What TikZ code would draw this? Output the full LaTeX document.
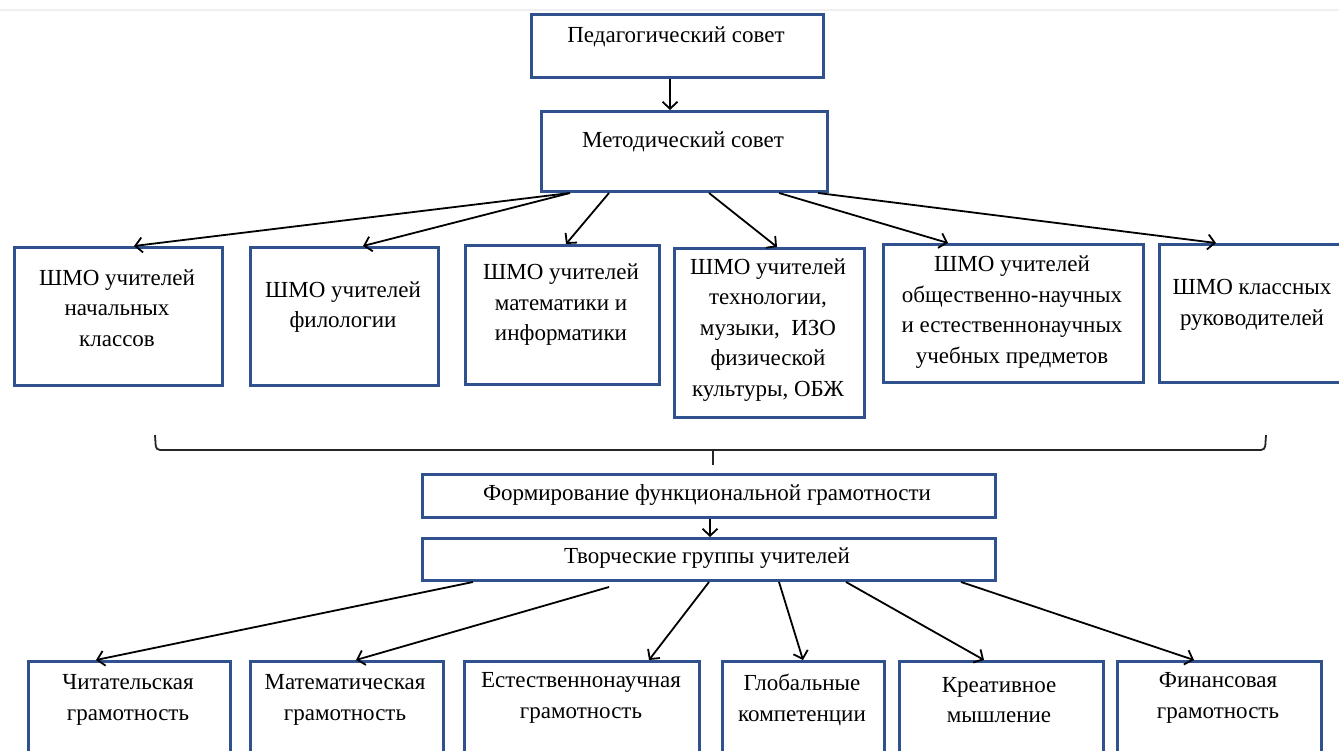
\documentclass[tikz,border=0pt]{standalone}
\usepackage{fontspec}
\setmainfont{Liberation Serif}
\usetikzlibrary{arrows.meta}
\definecolor{boxblue}{RGB}{47,82,143}
\tikzset{
  box/.style={draw=boxblue, line width=3pt, fill=white, inner sep=0pt},
  txt/.style={align=center, font=\fontsize{23}{30.5}\selectfont, inner sep=0pt},
  arr/.style={draw=black, line width=1.8pt, -{Straight Barb[length=7pt,width=15pt,line width=1.8pt]}},
  brace/.style={draw=black!85, line width=1.8pt}
}
\newcommand{\pbox}[5]{% name, x1, y1, x2, y2
  \node[box, minimum width={(#4-#2)*1pt}, minimum height={(#5-#3)*1pt}, anchor=north west] (#1) at (#2,#3) {};}
\begin{document}
\begin{tikzpicture}[x=1pt,y=-1pt]
\useasboundingbox (0,0) rectangle (1339,751);
\fill[white] (0,0) rectangle (1339,751);
\draw[black!6, line width=2pt] (0,10) -- (1339,10);

% top
\pbox{ped}{530}{13}{822}{76}
\node[txt] (tped) at (676,37) {Педагогический совет};
\pbox{met}{540}{110}{826}{190}
\node[txt] (tmet) at (683,142) {Методический совет};

% row 1
\pbox{a1}{13}{246}{221}{384}
\node[txt] (ta1) at (117,308) {ШМО учителей\\начальных\\классов};
\pbox{a2}{249}{246}{437}{384}
\node[txt] (ta2) at (343,307) {ШМО учителей\\филологии};
\pbox{a3}{464}{244}{658}{383}
\node[txt] (ta3) at (561,305) {ШМО учителей\\математики и\\информатики};
\pbox{a4}{673}{247}{863}{416}
\node[txt] (ta4) at (768,330) {ШМО учителей\\технологии,\\музыки,\ \ ИЗО\\физической\\культуры, ОБЖ};
\pbox{a5}{882}{243}{1142}{381}
\node[txt] (ta5) at (1012,312) {ШМО учителей\\общественно-научных\\и естественнонаучных\\учебных предметов};
\pbox{a6}{1158}{243}{1350}{381}
\node[txt] (ta6) at (1252,305) {ШМО классных\\руководителей};

% arrows top
\draw[arr] (ped.south -| 670,0) -- (met.north -| 670,0);
\draw[arr] (met.south -| 570,0) -- (a1.north -| 134,0);
\draw[arr] (met.south -| 570,0) -- (a2.north -| 363,0);
\draw[arr] (met.south -| 609,0) -- (a3.north -| 566,0);
\draw[arr] (met.south -| 709,0) -- (a4.north -| 777,0);
\draw[arr] (met.south -| 779,0) -- (a5.north -| 948,0);
\draw[arr] (met.south -| 818,0) -- (a6.north -| 1216,0);

% brace
\coordinate (bl) at (155,435);
\coordinate (br) at (1266,435);
\coordinate (bm) at (713,465);
\draw[brace, rounded corners=4pt] (bl) -- (156,450) -- (1265,450) -- (br);
\draw[brace] (713,450) -- (bm);

% middle
\pbox{form}{421}{473}{994}{516}
\node[txt] (tform) at (707,495) {Формирование функциональной грамотности};
\pbox{tvor}{421}{537}{994}{579}
\node[txt] (ttvor) at (707,558) {Творческие группы учителей};
\draw[arr] (form.south -| 710,0) -- (tvor.north -| 710,0);

% bottom row
\pbox{c1}{27}{660}{229}{770}
\node[txt] (tc1) at (128,700) {Читательская\\грамотность};
\pbox{c2}{249}{660}{442}{770}
\node[txt] (tc2) at (345,700) {Математическая\\грамотность};
\pbox{c3}{463}{660}{698}{770}
\node[txt] (tc3) at (581,698) {Естественнонаучная\\грамотность};
\pbox{c4}{721}{660}{883}{770}
\node[txt] (tc4) at (802,700) {Глобальные\\компетенции};
\pbox{c5}{898}{660}{1102}{770}
\node[txt] (tc5) at (999,700) {Креативное\\мышление};
\pbox{c6}{1116}{660}{1320}{770}
\node[txt] (tc6) at (1218,698) {Финансовая\\грамотность};

% arrows bottom
\draw[arr] (tvor.south -| 473,0) -- (c1.north -| 96,0);
\draw[arr] ([yshift=-5pt]tvor.south -| 609,0) -- (c2.north -| 356,0);
\draw[arr] (tvor.south -| 709,0) -- (c3.north -| 649,0);
\draw[arr] (tvor.south -| 779,0) -- (c4.north -| 803,0);
\draw[arr] (tvor.south -| 846,0) -- (c5.north -| 984,0);
\draw[arr] (tvor.south -| 961,0) -- (c6.north -| 1194,0);
\end{tikzpicture}
\end{document}
